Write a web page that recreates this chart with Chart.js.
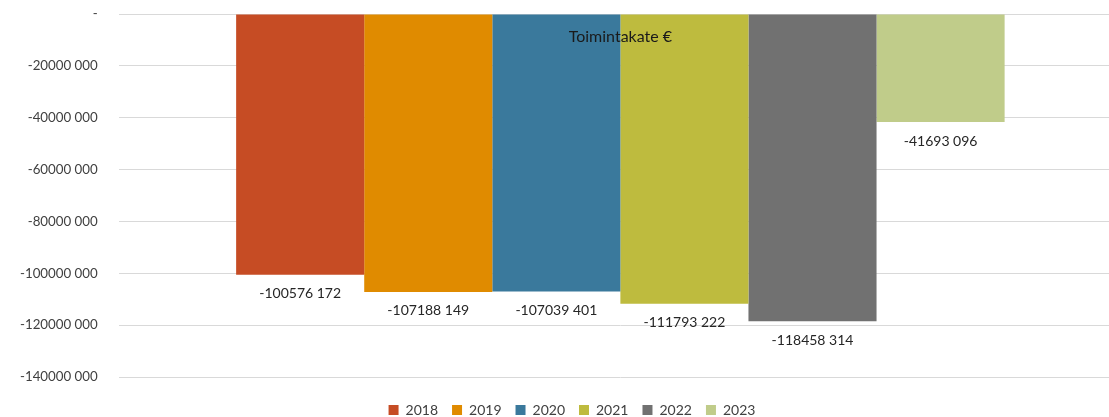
<!DOCTYPE html>
<html>
<head>
<meta charset="utf-8">
<script src="https://cdn.jsdelivr.net/npm/chart.js@4.4.1/dist/chart.umd.min.js"></script>
<style>
  html, body { margin: 0; padding: 0; background: #fff; overflow: hidden; }
  #wrap { width: 1122px; height: 417px; }
</style>
</head>
<body>
<div id="wrap"><canvas id="chartToimintakate"></canvas></div>
<script>
// ===========================================
// Toimintakate € 2018-2023 (Bar)
// ===========================================

const categories = ['Toimintakate €'];
const years = ['2018', '2019', '2020', '2021', '2022', '2023'];
const values = [-100576172, -107188149, -107039401, -111793222, -118458314, -41693096];
const colors = ['#c64c24', '#e08b00', '#3a799c', '#bebb3e', '#717171', '#c0cc8a'];
const yTicks = [0, -20000000, -40000000, -60000000, -80000000, -100000000, -120000000, -140000000];

const FONT = 'Lato, "Open Sans", sans-serif';

// "-100576 172" style: only the last group is separated
const fmt = v => {
    if (v === 0) return '-';
    const s = Math.abs(Math.round(v)).toString();
    const head = s.slice(0, -3), tail = s.slice(-3);
    return (v < 0 ? '-' : '') + head + ' ' + tail;
};

// Value labels under each bar end
const valueLabels = {
    id: 'valueLabels',
    afterDatasetsDraw(chart) {
        const ctx = chart.ctx;
        ctx.save();
        ctx.font = '14px ' + FONT;
        ctx.fillStyle = '#262626';
        ctx.textAlign = 'center';
        ctx.textBaseline = 'middle';
        chart.data.datasets.forEach((ds, i) => {
            const meta = chart.getDatasetMeta(i);
            meta.data.forEach((bar, j) => {
                ctx.fillText(fmt(ds.data[j]), bar.x, bar.y + 19);
            });
        });
        ctx.restore();
    }
};

// Category title sits inside the plot, near the top
const innerTitle = {
    id: 'innerTitle',
    afterDatasetsDraw(chart) {
        const a = chart.chartArea;
        const ctx = chart.ctx;
        ctx.save();
        ctx.font = '16px ' + FONT;
        ctx.fillStyle = '#1a1a1a';
        ctx.textAlign = 'center';
        ctx.textBaseline = 'middle';
        ctx.fillText(categories[0], (a.left + a.right) / 2, a.top + 23);
        ctx.restore();
    }
};

// Push the legend down a bit, closer to the bottom edge
const legendNudge = {
    id: 'legendNudge',
    afterLayout(chart) {
        const l = chart.legend;
        if (!l) return;
        l.top += 12; l.bottom += 12;
        l.left += 2; l.right += 2;
    }
};

const ctx = document.getElementById('chartToimintakate');
new Chart(ctx.getContext('2d'), {
    type: 'bar',
    data: {
        labels: categories,
        datasets: years.map((y, i) => ({
            label: y,
            data: [values[i]],
            backgroundColor: colors[i],
            borderWidth: 0
        }))
    },
    options: {
        responsive: true,
        maintainAspectRatio: false,
        animation: false,
        categoryPercentage: 0.766,
        barPercentage: 1,
        layout: { padding: { top: 14, left: 18, right: 0, bottom: 2 } },
        plugins: {
            legend: {
                position: 'bottom',
                labels: {
                    boxWidth: 10,
                    boxHeight: 10,
                    padding: 14,
                    color: '#404040',
                    font: { family: FONT, size: 14 }
                }
            },
            tooltip: { enabled: false }
        },
        scales: {
            x: {
                display: false
            },
            y: {
                min: -140000000,
                max: 0,
                afterBuildTicks: axis => { axis.ticks = yTicks.map(v => ({ value: v })); },
                border: { display: false },
                grid: { color: '#d9d9d9', drawTicks: true, tickLength: 19, tickColor: 'rgba(0,0,0,0)' },
                ticks: {
                    padding: 2,
                    color: '#404040',
                    font: { family: FONT, size: 13.3 },
                    callback: v => fmt(v)
                }
            }
        }
    },
    plugins: [valueLabels, innerTitle, legendNudge]
});
</script>
</body>
</html>
